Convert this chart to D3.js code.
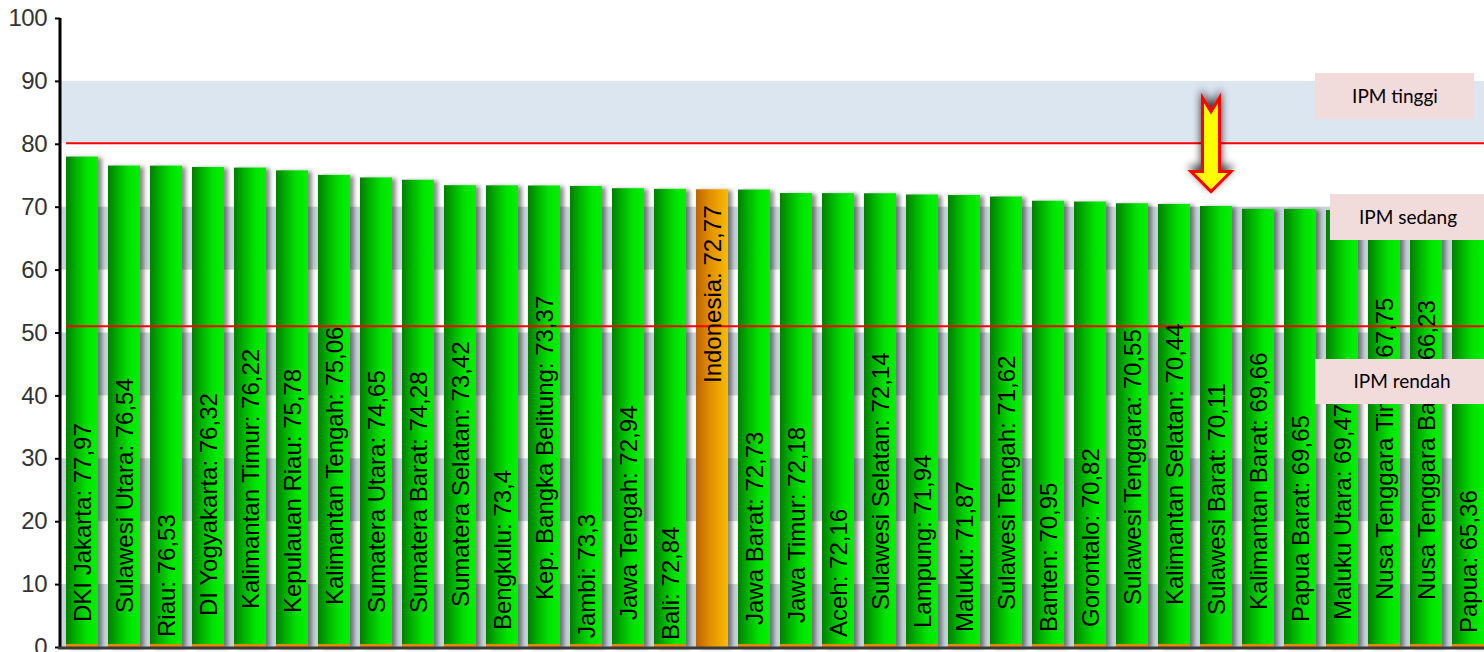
<!DOCTYPE html>
<html>
<head>
<meta charset="utf-8">
<script src="https://cdn.jsdelivr.net/npm/d3@7"></script>
<style>
  html, body { margin: 0; padding: 0; background: #ffffff; }
  svg { display: block; }
</style>
</head>
<body>
<svg id="chart" width="1484" height="652"></svg>
<script>
// ---------- DATA ----------
const provinces = [
  "DKI Jakarta", "Sulawesi Utara", "Riau", "DI Yogyakarta", "Kalimantan Timur",
  "Kepulauan Riau", "Kalimantan Tengah", "Sumatera Utara", "Sumatera Barat",
  "Sumatera Selatan", "Bengkulu", "Kep. Bangka Belitung", "Jambi", "Jawa Tengah",
  "Bali", "Indonesia", "Jawa Barat", "Jawa Timur", "Aceh", "Sulawesi Selatan",
  "Lampung", "Maluku", "Sulawesi Tengah", "Banten", "Gorontalo", "Sulawesi Tenggara",
  "Kalimantan Selatan", "Sulawesi Barat", "Kalimantan Barat", "Papua Barat",
  "Maluku Utara", "Nusa Tenggara Timur", "Nusa Tenggara Barat", "Papua"
];
const ipmValues = [
  77.97, 76.54, 76.53, 76.32, 76.22, 75.78, 75.06, 74.65, 74.28, 73.42,
  73.4, 73.37, 73.3, 72.94, 72.84, 72.77, 72.73, 72.18, 72.16, 72.14,
  71.94, 71.87, 71.62, 70.95, 70.82, 70.55, 70.44, 70.11, 69.66, 69.65,
  69.47, 67.75, 66.23, 65.36
];
const valueLabels = [
  "77,97", "76,54", "76,53", "76,32", "76,22", "75,78", "75,06", "74,65", "74,28", "73,42",
  "73,4", "73,37", "73,3", "72,94", "72,84", "72,77", "72,73", "72,18", "72,16", "72,14",
  "71,94", "71,87", "71,62", "70,95", "70,82", "70,55", "70,44", "70,11", "69,66", "69,65",
  "69,47", "67,75", "66,23", "65,36"
];
const yTicks = [0, 10, 20, 30, 40, 50, 60, 70, 80, 90, 100];
const thresholds = [80.1, 51];
const highlightName = "Indonesia";
const categoryLabels = ["IPM tinggi", "IPM sedang", "IPM rendah"];

// ---------- LAYOUT (not data) ----------
// distance (px) of each rotated label's start above the x axis
const labelLift = [25, 34, 10, 31, 38, 34, 42, 34, 34, 40, 17, 47, 9, 27, 7, 264, 22, 24, 10, 37,
                   19, 15, 37, 15, 20, 42, 42, 32, 37, 25, 27, 47, 47, 14];

const W = 1484, H = 652;
const svg = d3.select("#chart");
const defs = svg.append("defs");

const x = d3.scaleBand().domain(provinces).range([61, 61 + 34 * 42])
  .paddingInner(10 / 42).paddingOuter(5 / 42);
const y = d3.scaleLinear().domain([0, 100]).range([647, 18]);

const plotLeft = 61, plotRight = W;

// gradients
const gGreen = defs.append("linearGradient").attr("id", "gGreen").attr("x1", "0").attr("x2", "1").attr("y1", "0").attr("y2", "0");
[["0%", "#007e00"], ["30%", "#00b000"], ["65%", "#00e200"], ["100%", "#00f200"]]
  .forEach(s => gGreen.append("stop").attr("offset", s[0]).attr("stop-color", s[1]));
const gOrange = defs.append("linearGradient").attr("id", "gOrange").attr("x1", "0").attr("x2", "1").attr("y1", "0").attr("y2", "0");
[["0%", "#bd6200"], ["40%", "#e08c00"], ["100%", "#f8bc00"]]
  .forEach(s => gOrange.append("stop").attr("offset", s[0]).attr("stop-color", s[1]));

// shadow filter
const f = defs.append("filter").attr("id", "shadow").attr("x", "-30%").attr("y", "-10%").attr("width", "160%").attr("height", "120%");
f.append("feGaussianBlur").attr("in", "SourceAlpha").attr("stdDeviation", 2.2).attr("result", "b");
f.append("feOffset").attr("in", "b").attr("dx", 4).attr("dy", 1).attr("result", "o");
f.append("feComponentTransfer").attr("in", "o").attr("result", "o2")
  .append("feFuncA").attr("type", "linear").attr("slope", 0.45);
const m = f.append("feMerge");
m.append("feMergeNode").attr("in", "o2");
m.append("feMergeNode").attr("in", "SourceGraphic");

const fa = defs.append("filter").attr("id", "arrowShadow").attr("x", "-60%").attr("y", "-30%").attr("width", "220%").attr("height", "160%");
fa.append("feGaussianBlur").attr("in", "SourceAlpha").attr("stdDeviation", 4).attr("result", "b");
fa.append("feOffset").attr("in", "b").attr("dx", 0).attr("dy", -4).attr("result", "o");
fa.append("feComponentTransfer").attr("in", "o").attr("result", "o2")
  .append("feFuncA").attr("type", "linear").attr("slope", 0.8);
const ma = fa.append("feMerge");
ma.append("feMergeNode").attr("in", "o2");
ma.append("feMergeNode").attr("in", "SourceGraphic");

// background bands
const bands = [[0, 10], [20, 30], [40, 50], [60, 70]];
svg.append("g").selectAll("rect").data(bands).join("rect")
  .attr("x", plotLeft).attr("width", plotRight - plotLeft)
  .attr("y", d => y(d[1])).attr("height", d => y(d[0]) - y(d[1]))
  .attr("fill", "#c8d0da");
svg.append("rect")
  .attr("x", plotLeft).attr("width", plotRight - plotLeft)
  .attr("y", y(90)).attr("height", y(thresholds[0]) - y(90))
  .attr("fill", "#dce6f1");

// bars
const data = provinces.map((p, i) => ({ name: p, value: ipmValues[i], label: valueLabels[i], lift: labelLift[i] }));
const barG = svg.append("g");
barG.selectAll("rect.bar").data(data).join("rect")
  .attr("class", "bar")
  .attr("x", d => x(d.name)).attr("width", x.bandwidth())
  .attr("y", d => y(d.value)).attr("height", d => y(0) - y(d.value))
  .attr("fill", d => d.name === highlightName ? "url(#gOrange)" : "url(#gGreen)")
  .attr("filter", "url(#shadow)");
// orange base strip
barG.selectAll("rect.base").data(data.filter(d => d.name !== highlightName)).join("rect")
  .attr("class", "base")
  .attr("x", d => x(d.name)).attr("width", x.bandwidth())
  .attr("y", y(0) - 3).attr("height", 3)
  .attr("fill", "#e38a00");

// threshold lines
svg.append("g").selectAll("line").data(thresholds).join("line")
  .attr("x1", 66).attr("x2", plotRight)
  .attr("y1", d => y(d)).attr("y2", d => y(d))
  .attr("stroke", "#ff0000").attr("stroke-width", 2);

// bar labels
svg.append("g").selectAll("text").data(data).join("text")
  .attr("transform", d => `translate(${x(d.name) + x.bandwidth() / 2 + 8.5},${y(0) - d.lift}) rotate(-90)`)
  .attr("text-anchor", "start")
  .style("font-family", "'Liberation Sans', Arial, sans-serif")
  .style("font-size", "24px")
  .attr("fill", "#000")
  .text(d => `${d.name}: ${d.label}`);

// axes
const yAxis = d3.axisLeft(y).tickValues(yTicks).tickSize(5).tickPadding(8).tickFormat(d3.format("d"));
const ax = svg.append("g").attr("transform", "translate(60,0)").call(yAxis);
ax.select(".domain").attr("stroke", "#000").attr("stroke-width", 3).attr("d", `M0,${y(100)}V${y(0) + 1}`);
ax.selectAll(".tick line").attr("stroke", "#000").attr("stroke-width", 2);
ax.selectAll(".tick text")
  .style("font-family", "'Liberation Sans', Arial, sans-serif")
  .style("font-size", "24px")
  .style("letter-spacing", "-0.5px")
  .attr("fill", "#333333");

svg.append("line")
  .attr("x1", 58).attr("x2", plotRight)
  .attr("y1", y(0) + 1).attr("y2", y(0) + 1)
  .attr("stroke", "#3a3a3a").attr("stroke-width", 3);

// arrow pointing to Sulawesi Barat
const ac = x("Sulawesi Barat") + x.bandwidth() / 2 - 5;
const aTop = y(87.3), aNotch = y(85.1), aHead = y(75.6), aTip = y(72.4);
const sw = 8.5, hw = 20;
const arrowPath = d3.path();
arrowPath.moveTo(ac - sw, aTop);
arrowPath.lineTo(ac, aNotch);
arrowPath.lineTo(ac + sw, aTop);
arrowPath.lineTo(ac + sw, aHead);
arrowPath.lineTo(ac + hw, aHead);
arrowPath.lineTo(ac, aTip);
arrowPath.lineTo(ac - hw, aHead);
arrowPath.lineTo(ac - sw, aHead);
arrowPath.closePath();
svg.append("path").attr("d", arrowPath.toString())
  .attr("fill", "#ffff00").attr("stroke", "#ff0000").attr("stroke-width", 3)
  .attr("stroke-linejoin", "miter").attr("filter", "url(#arrowShadow)");

// category boxes
const boxes = [
  { text: categoryLabels[0], x: 1315, y: 73, w: 159, h: 46, cx: 1395 },
  { text: categoryLabels[1], x: 1330, y: 194, w: 154, h: 46, cx: 1408 },
  { text: categoryLabels[2], x: 1315, y: 359, w: 169, h: 45, cx: 1402 }
];
const bg = svg.append("g").selectAll("g").data(boxes).join("g");
bg.append("rect").attr("x", d => d.x).attr("y", d => d.y).attr("width", d => d.w).attr("height", d => d.h)
  .attr("fill", "#f2dcdb");
bg.append("text")
  .attr("x", d => d.cx)
  .attr("y", d => d.y + d.h / 2)
  .attr("dy", "0.36em")
  .attr("text-anchor", "middle")
  .style("font-family", "Lato, 'Open Sans', sans-serif")
  .style("font-size", "19px")
  .attr("fill", "#000")
  .text(d => d.text);
</script>
</body>
</html>
